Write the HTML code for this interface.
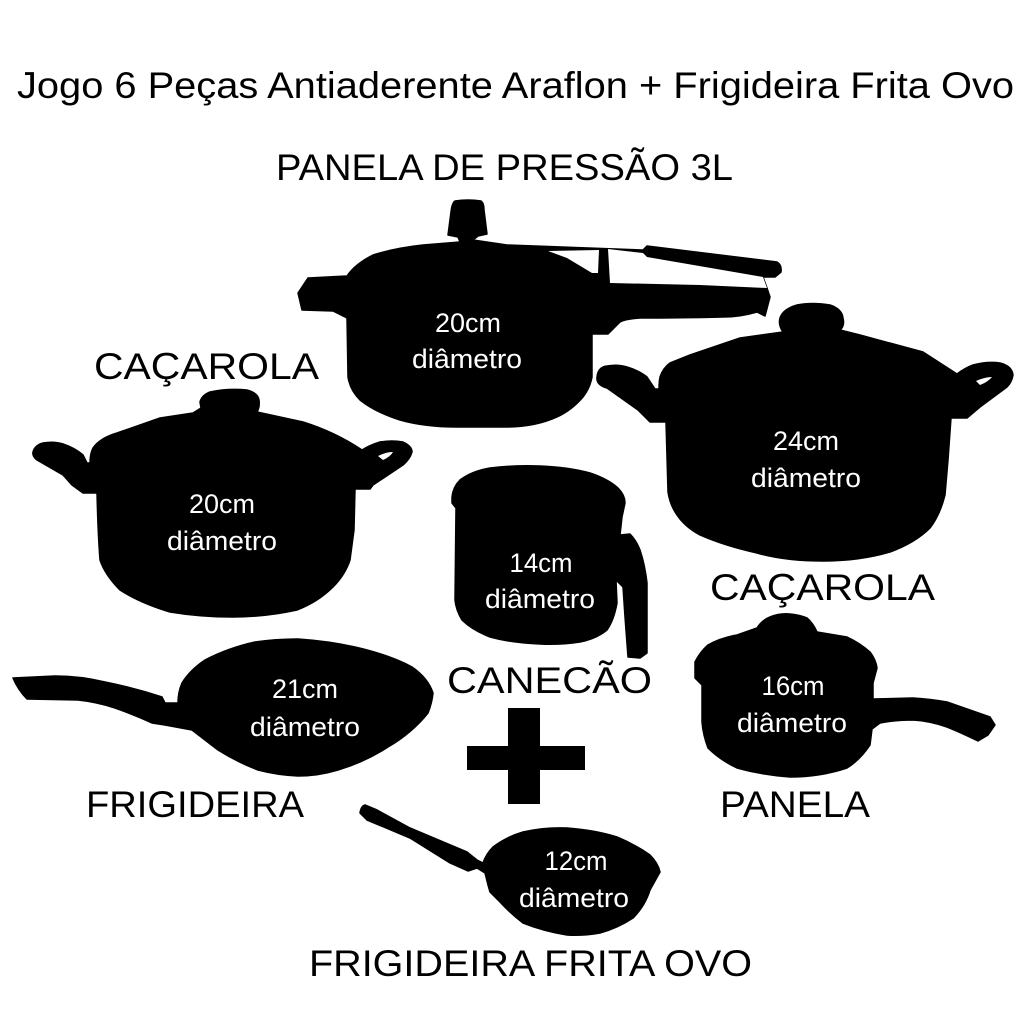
<!DOCTYPE html>
<html><head><meta charset="utf-8"><style>
html,body{margin:0;padding:0;background:#fff;width:1024px;height:1024px;overflow:hidden}
svg{display:block}
text{font-family:"Liberation Sans",sans-serif;fill:#000}
.w{fill:#fff;font-size:27px;text-anchor:middle}
.t{font-size:37px}
.s path{stroke:#000;stroke-width:1.5;stroke-linejoin:round}
.s path.h{fill:#fff;stroke:none}
</style></head><body>
<svg width="1024" height="1024" viewBox="0 0 1024 1024" xmlns="http://www.w3.org/2000/svg">
<rect width="1024" height="1024" fill="#fff"/>
<text x="17" y="98" font-size="37" textLength="997" lengthAdjust="spacingAndGlyphs">Jogo 6 Peças Antiaderente Araflon + Frigideira Frita Ovo</text>
<text class="t" x="276" y="180" textLength="457" lengthAdjust="spacingAndGlyphs">PANELA DE PRESSÃO 3L</text>
<text class="t" x="94" y="379" textLength="225" lengthAdjust="spacingAndGlyphs">CAÇAROLA</text>
<text class="t" x="710" y="600" textLength="225" lengthAdjust="spacingAndGlyphs">CAÇAROLA</text>
<text class="t" x="447" y="693" textLength="205" lengthAdjust="spacingAndGlyphs">CANECÃO</text>
<text class="t" x="86" y="817" textLength="218" lengthAdjust="spacingAndGlyphs">FRIGIDEIRA</text>
<text class="t" x="720" y="817" textLength="150" lengthAdjust="spacingAndGlyphs">PANELA</text>
<text class="t" x="309" y="976" textLength="443" lengthAdjust="spacingAndGlyphs">FRIGIDEIRA FRITA OVO</text>

<g class="s">
<!-- pressure cooker -->
<path d="M455 201 Q468 199 481 201 Q484 203 484 210 L487 234 L478 236 L473 240 L507 245 L643 250 L647 246 L777 262 Q782 265 781 272 L775 277 L763 277 L767 288 L770 297 L765 316 L757 312 Q740 317 723 317 Q680 318 640 318 Q625 319 620 322 L608 334 L592 334 L592 377 Q590 388 583 397 Q572 410 557 417 Q535 427 507 427 L457 427 Q425 427 400 420 Q375 412 360 400 Q350 390 348 377 L347 318 L333 311 L302 310 L298 293 L308 278 L347 276 Q355 264 373 255 Q395 248 423 245 L460 242 L458 237 L448 235 L451 212 Q452 203 455 201 Z"/>
<path class="h" d="M548 251 L599 250 L598 273 L592 273 L567 258 Z"/>
<path class="h" d="M608 249 L643 253 L647 257 L763 277 L767 288 L700 285 L610 283 Z"/>

<!-- large caçarola -->
<path d="M783 332 Q778 325 780 318 Q783 309 797 305 Q812 302 830 305 Q842 309 843 318 Q845 326 840 330 L860 335 L923 352 L957 374 Q965 368 973 365 Q988 361 1000 363 Q1012 366 1013 375 Q1012 382 1007 387 L980 407 L967 418 L951 418 L948 460 L945 495 Q940 515 930 528 Q915 543 890 552 Q860 561 823 561 Q785 561 757 553 Q725 546 700 535 Q685 527 677 515 Q670 505 668 492 L666 422 L650 422 L638 410 L607 388 Q596 385 597 377 Q598 367 607 366 Q618 364 627 367 Q640 371 647 377 L655 389 L659 389 Q659 382 660 377 Q663 368 670 363 L690 355 L740 338 Z"/>
<path class="h" d="M976 381 Q985 377 992 377 Q988 382 980 385 Z"/>

<!-- left caçarola -->
<path d="M193 413 L201 408 L200 402 Q202 395 210 392 Q228 388 247 390 Q258 393 259 400 Q260 407 257 412 L303 422 Q335 432 362 450 Q370 445 380 442 Q392 440 403 442 Q412 446 412 452 Q410 459 403 465 L373 485 L370 489 L355 489 L354 530 L350 560 Q345 575 333 587 Q318 602 297 610 Q265 617 233 617 Q200 617 170 612 Q140 603 120 590 Q105 575 100 560 Q98 535 97 493 L83 493 L72 485 L63 475 L37 460 Q32 456 33 452 Q35 445 43 443 Q54 441 63 444 Q75 448 83 455 L87 463 L90 463 Q90 454 93 448 Q100 438 117 433 L160 418 Z"/>
<path class="h" d="M378 456 Q386 452 393 452 Q390 457 383 460 Z"/>

<!-- canecão -->
<path d="M452 497 Q453 487 460 480 Q472 471 490 468 Q515 465 540 466 Q568 467 590 473 Q608 479 618 488 Q625 495 625 503 L622 517 L620 535 L630 534 Q636 540 640 550 Q645 565 647 583 L647 653 L640 658 L628 657 L625 617 L623 587 L616 580 L617 603 Q614 620 607 630 Q596 639 580 642 Q560 645 540 644 Q512 643 490 637 Q472 630 462 620 Q456 610 455 600 L456 508 L452 503 Z"/>

<!-- frigideira 21 -->
<path d="M13 678 L55 676 Q80 676 105 682 Q135 688 162 697 L165 703 L178 703 Q178 692 182 683 Q190 670 205 660 Q228 648 255 642 Q275 639 298 639 Q328 641 355 647 Q390 655 412 667 Q428 678 433 693 Q432 703 428 713 Q412 733 388 747 Q365 762 338 770 Q318 776 298 776 Q277 775 258 770 Q237 762 218 750 L192 730 L165 725 L152 723 Q135 715 115 708 Q97 702 78 700 L27 699 Q18 690 13 678 Z"/>

<!-- panela -->
<path d="M737 635 L757 628 Q762 620 770 617 Q780 613 790 614 Q800 615 807 618 Q813 623 817 632 L847 637 Q860 643 870 652 Q876 660 877 668 L873 683 L873 699 L913 698 Q930 699 947 702 L990 717 L995 725 L988 735 L978 741 Q962 733 947 727 Q930 721 913 720 Q895 720 880 723 L872 729 L870 745 Q860 760 847 768 Q820 777 790 777 Q762 775 737 768 Q720 760 708 748 Q703 735 702 722 L702 685 L695 678 L695 662 Q700 652 708 645 Q720 638 737 635 Z"/>

<!-- plus -->
<path d="M508 708 h32 v38 h45 v24 h-45 v34 h-32 v-34 h-41 v-24 h41 Z" style="stroke:none"/>

<!-- frigideira 12 -->
<path d="M360 813 Q361 806 365 805 L377 810 L410 828 L467 852 L477 860 L483 863 Q486 854 493 847 Q506 837 523 832 Q545 827 567 828 Q595 830 617 837 Q636 845 650 855 Q658 863 660 872 L650 890 Q645 906 633 918 Q618 928 600 933 Q583 936 567 935 Q543 931 523 923 Q510 913 500 902 L490 892 L488 885 L485 873 L477 868 L468 871 L450 863 L410 838 L367 820 Z"/>
</g>

<text class="w" x="468" y="332" textLength="66" lengthAdjust="spacingAndGlyphs">20cm</text>
<text class="w" x="467" y="368" textLength="110" lengthAdjust="spacingAndGlyphs">diâmetro</text>
<text class="w" x="806" y="450" textLength="66" lengthAdjust="spacingAndGlyphs">24cm</text>
<text class="w" x="806" y="487" textLength="110" lengthAdjust="spacingAndGlyphs">diâmetro</text>
<text class="w" x="222" y="513" textLength="66" lengthAdjust="spacingAndGlyphs">20cm</text>
<text class="w" x="222" y="550" textLength="110" lengthAdjust="spacingAndGlyphs">diâmetro</text>
<text class="w" x="541" y="572" textLength="63" lengthAdjust="spacingAndGlyphs">14cm</text>
<text class="w" x="540" y="608" textLength="110" lengthAdjust="spacingAndGlyphs">diâmetro</text>
<text class="w" x="305" y="698" textLength="66" lengthAdjust="spacingAndGlyphs">21cm</text>
<text class="w" x="305" y="736" textLength="110" lengthAdjust="spacingAndGlyphs">diâmetro</text>
<text class="w" x="793" y="695" textLength="63" lengthAdjust="spacingAndGlyphs">16cm</text>
<text class="w" x="792" y="732" textLength="110" lengthAdjust="spacingAndGlyphs">diâmetro</text>
<text class="w" x="576" y="870" textLength="63" lengthAdjust="spacingAndGlyphs">12cm</text>
<text class="w" x="574" y="907" textLength="110" lengthAdjust="spacingAndGlyphs">diâmetro</text>
</svg>
</body></html>
